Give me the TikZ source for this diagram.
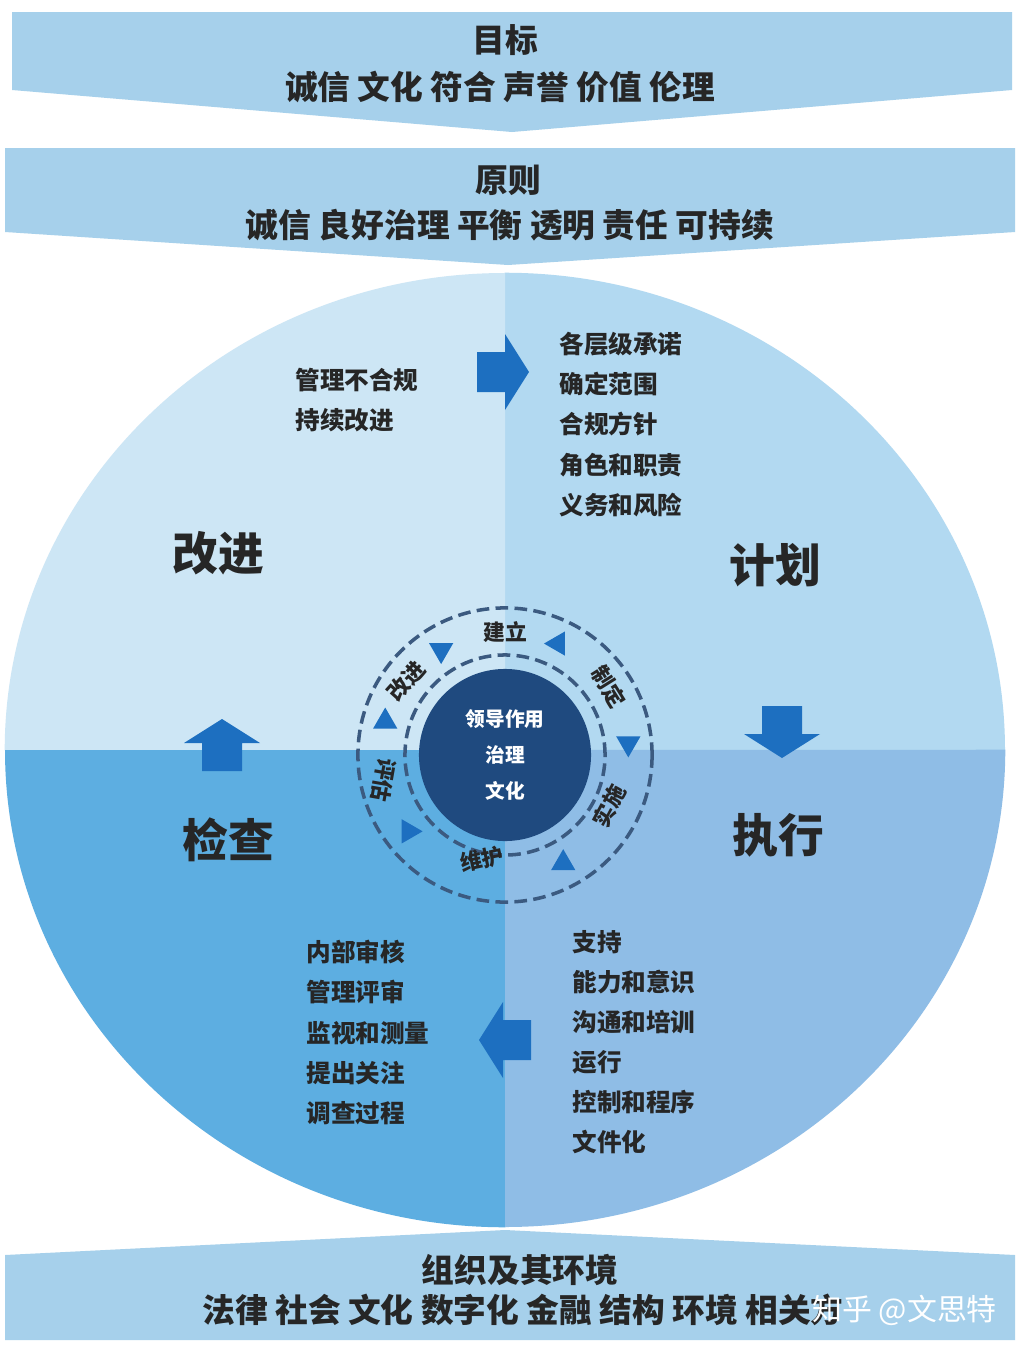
\documentclass[tikz,border=0pt]{standalone}
\usepackage{fontspec}
\setmainfont{Noto Sans CJK SC}
\usetikzlibrary{shapes.geometric, positioning}
\definecolor{banner}{HTML}{A6D0EB}
\definecolor{qtl}{HTML}{CDE6F5}
\definecolor{qtr}{HTML}{B2D9F1}
\definecolor{qbl}{HTML}{5DAEE1}
\definecolor{qbr}{HTML}{8FBDE6}
\definecolor{navy}{HTML}{1F4A7F}
\definecolor{bigarrow}{HTML}{1D6FC0}
\definecolor{ring}{HTML}{3B5A80}
\definecolor{txt}{HTML}{262626}
\tikzset{
  bannertext/.style={font=\bfseries\fontsize{9.3}{11}\selectfont, text=txt},
  quadtitle/.style={font=\bfseries\fontsize{13}{14}\selectfont, text=txt},
  listtext/.style={font=\bfseries\fontsize{7}{11.4}\selectfont, text=txt, align=left, anchor=north west},
  ringtext/.style={font=\bfseries\fontsize{6.2}{7}\selectfont, text=txt, inner sep=0pt},
  tri/.style={isosceles triangle, fill=bigarrow, minimum size=0.1cm, inner sep=1.6pt, isosceles triangle apex angle=60},
  ringline/.style={ring, line width=1pt, dash pattern=on 3.6pt off 1.8pt}
}
\newcommand{\blockarrow}[2]{% position, rotation
  \fill[bigarrow, shift={#1}, rotate=#2] (-26,-20) -- (2,-20) -- (2,-38) -- (26,0) -- (2,38) -- (2,20) -- (-26,20) -- cycle;}
\begin{document}
\begin{tikzpicture}[x=0.01cm, y=-0.01cm]
\useasboundingbox[fill=white] (0,0) rectangle (1023,1357);
% banners
\fill[banner] (12,12) -- (1012,12) -- (1012,90) -- (512,132) -- (12,90) -- cycle;
\fill[banner] (5,148) -- (1015,148) -- (1015,232) -- (508,265) -- (5,232) -- cycle;
\fill[banner] (5,1255) -- (505,1230) -- (1015,1255) -- (1015,1340) -- (5,1340) -- cycle;
\node (goal) [bannertext] at (505,40) {目标};
\node (goals) [bannertext] at (500,87) {诚信 文化 符合 声誉 价值 伦理};
\node (prin) [bannertext] at (508,180) {原则};
\node (prins) [bannertext] at (510,225) {诚信 良好治理 平衡 透明 责任 可持续};
\node (org) [bannertext] at (520,1270) {组织及其环境};
\node (orgs) [bannertext, anchor=west] at (190,1310) {法律 社会 文化 数字化 金融 结构 环境 相关方};
\node (mark) [font=\fontsize{8.5}{10}\selectfont, text=white, anchor=west] at (800,1310) {知乎 @文思特};
% quadrants
\coordinate (c) at (505,750);
\fill[qtr] (c) -- (1005,750) arc[start angle=0, end angle=90, x radius=5cm, y radius=4.77cm] -- cycle;
\fill[qtl] (c) -- (505,273) arc[start angle=90, end angle=180, x radius=5cm, y radius=4.77cm] -- cycle;
\fill[qbl] (c) -- (5,750) arc[start angle=180, end angle=270, x radius=5cm, y radius=4.77cm] -- cycle;
\fill[qbr] (c) -- (505,1227) arc[start angle=270, end angle=360, x radius=5cm, y radius=4.77cm] -- cycle;
% big arrows
\blockarrow{(503,372)}{0}
\blockarrow{(782,732)}{-90}
\blockarrow{(505,1040)}{180}
\blockarrow{(222,745)}{90}
% quadrant titles
\node (act) [quadtitle] at (218,553) {改进};
\node (plan) [quadtitle] at (775,565) {计划};
\node (check) [quadtitle] at (228,840) {检查};
\node (do) [quadtitle] at (778,835) {执行};
% lists
\node (actlist) [listtext] at (283,356) {管理不合规\\持续改进};
\node (planlist) [listtext] at (547,320) {各层级承诺\\确定范围\\合规方针\\角色和职责\\义务和风险};
\node (dolist) [listtext] at (560,918) {支持\\能力和意识\\沟通和培训\\运行\\控制和程序\\文件化};
\node (checklist) [listtext] at (294,928) {内部审核\\管理评审\\监视和测量\\提出关注\\调查过程};
% center
\coordinate (cc) at (505,755);
\draw[ringline] (cc) circle[radius=1.47cm];
\draw[ringline] (cc) circle[radius=1.0cm];
\fill[navy] (cc) circle[radius=0.86cm];
\node (core) [font=\bfseries\fontsize{5.6}{10.3}\selectfont, text=white, align=center, inner sep=0pt] at (cc) {领导作用\\治理\\文化};
\node (est) [ringtext] at (505,632) {建立};
\node (form) [ringtext, rotate=-58] at (609,687) {制定};
\node (impl) [ringtext, rotate=62] at (609,806) {实施};
\node (keep) [ringtext, rotate=12] at (482,859) {维护};
\node (eval) [ringtext, rotate=-100] at (384,780) {评估};
\node (impr) [ringtext, rotate=48] at (406,681) {改进};
\foreach \a/\d in {64/200, 6/-90, -62/110, -142/-30, 165/90, 121/-60}
  \node[tri, shape border rotate=\d] at ({505+124*cos(\a)},{755-124*sin(\a)}) {};
\end{tikzpicture}
\end{document}
